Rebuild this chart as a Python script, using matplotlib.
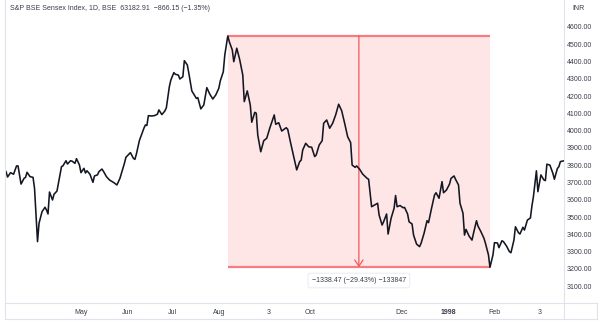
import matplotlib
matplotlib.use("Agg")
import matplotlib.pyplot as plt
from matplotlib.patches import Rectangle
from matplotlib.lines import Line2D
import pandas as pd

# S&P BSE Sensex daily closes, Mar 1997 - Mar 1998
dates = [
    "1997-03-12", "1997-03-13", "1997-03-15", "1997-03-17", "1997-03-19", "1997-03-20",
    "1997-03-22", "1997-03-24", "1997-03-25", "1997-03-26", "1997-03-28", "1997-03-30",
    "1997-03-31", "1997-04-02", "1997-04-03", "1997-04-05", "1997-04-07", "1997-04-08",
    "1997-04-09", "1997-04-10", "1997-04-12", "1997-04-13", "1997-04-15", "1997-04-16",
    "1997-04-18", "1997-04-19", "1997-04-21", "1997-04-22", "1997-04-24", "1997-04-25",
    "1997-04-27", "1997-04-28", "1997-04-30", "1997-05-01", "1997-05-03", "1997-05-04",
    "1997-05-05", "1997-05-07", "1997-05-09", "1997-05-10", "1997-05-12", "1997-05-13",
    "1997-05-15", "1997-05-16", "1997-05-18", "1997-05-20", "1997-05-23", "1997-05-25",
    "1997-05-27", "1997-05-28", "1997-05-30", "1997-05-31", "1997-06-03", "1997-06-05",
    "1997-06-06", "1997-06-07", "1997-06-09", "1997-06-12", "1997-06-13", "1997-06-14",
    "1997-06-15", "1997-06-17", "1997-06-19", "1997-06-21", "1997-06-22", "1997-06-24",
    "1997-06-26", "1997-06-27", "1997-06-29", "1997-06-30", "1997-07-02", "1997-07-03",
    "1997-07-05", "1997-07-06", "1997-07-08", "1997-07-09", "1997-07-11", "1997-07-12",
    "1997-07-14", "1997-07-15", "1997-07-17", "1997-07-18", "1997-07-20", "1997-07-22",
    "1997-07-24", "1997-07-26", "1997-07-28", "1997-07-30", "1997-08-01", "1997-08-02",
    "1997-08-04", "1997-08-05", "1997-08-07", "1997-08-08", "1997-08-10", "1997-08-11",
    "1997-08-13", "1997-08-15", "1997-08-17", "1997-08-18", "1997-08-20", "1997-08-22",
    "1997-08-23", "1997-08-25", "1997-08-26", "1997-08-27", "1997-08-29", "1997-08-31",
    "1997-09-02", "1997-09-04", "1997-09-07", "1997-09-08", "1997-09-10", "1997-09-12",
    "1997-09-15", "1997-09-16", "1997-09-18", "1997-09-20", "1997-09-22", "1997-09-24",
    "1997-09-25", "1997-09-26", "1997-09-28", "1997-09-30", "1997-10-02", "1997-10-04",
    "1997-10-05", "1997-10-07", "1997-10-09", "1997-10-10", "1997-10-12", "1997-10-14",
    "1997-10-16", "1997-10-18", "1997-10-20", "1997-10-22", "1997-10-24", "1997-10-26",
    "1997-10-28", "1997-10-29", "1997-10-31", "1997-11-01", "1997-11-03", "1997-11-05",
    "1997-11-08", "1997-11-09", "1997-11-11", "1997-11-13", "1997-11-15", "1997-11-16",
    "1997-11-18", "1997-11-19", "1997-11-21", "1997-11-22", "1997-11-24", "1997-11-26",
    "1997-11-27", "1997-11-28", "1997-11-30", "1997-12-02", "1997-12-03", "1997-12-05",
    "1997-12-06", "1997-12-08", "1997-12-09", "1997-12-11", "1997-12-13", "1997-12-14",
    "1997-12-16", "1997-12-18", "1997-12-19", "1997-12-21", "1997-12-23", "1997-12-24",
    "1997-12-26", "1997-12-28", "1997-12-29", "1997-12-31", "1998-01-02", "1998-01-03",
    "1998-01-05", "1998-01-06", "1998-01-08", "1998-01-09", "1998-01-11", "1998-01-12",
    "1998-01-13", "1998-01-15", "1998-01-17", "1998-01-18", "1998-01-20", "1998-01-21",
    "1998-01-23", "1998-01-25", "1998-01-26", "1998-01-28", "1998-01-29", "1998-01-31",
    "1998-02-01", "1998-02-03", "1998-02-04", "1998-02-06", "1998-02-07", "1998-02-09",
    "1998-02-11", "1998-02-12", "1998-02-14", "1998-02-15", "1998-02-17", "1998-02-18",
    "1998-02-20", "1998-02-21", "1998-02-23", "1998-02-25", "1998-02-26", "1998-02-27",
    "1998-03-01", "1998-03-02", "1998-03-04", "1998-03-06", "1998-03-07", "1998-03-08",
    "1998-03-10", "1998-03-12", "1998-03-13", "1998-03-15", "1998-03-16", "1998-03-17",
    "1998-03-19",
]
closes = [
    3763, 3732, 3757, 3748, 3796, 3796,
    3691, 3724, 3730, 3759, 3734, 3730,
    3667, 3358, 3464, 3531, 3557, 3541,
    3518, 3645, 3599, 3632, 3651, 3699,
    3792, 3797, 3826, 3807, 3826, 3824,
    3811, 3838, 3801, 3757, 3782, 3755,
    3768, 3748, 3701, 3738, 3744, 3763,
    3778, 3765, 3734, 3715, 3699, 3686,
    3724, 3753, 3811, 3846, 3873, 3840,
    3834, 3865, 3943, 4014, 4033, 4030,
    4087, 4085, 4087, 4095, 4120, 4093,
    4114, 4133, 4255, 4293, 4336, 4326,
    4322, 4299, 4312, 4405, 4380, 4332,
    4230, 4216, 4187, 4191, 4126, 4149,
    4249, 4211, 4183, 4207, 4245, 4288,
    4341, 4438, 4548.00, 4515, 4467, 4399,
    4477, 4409, 4322, 4168, 4230, 4149,
    4049, 4106, 4101, 3975, 3878, 3942,
    3956, 4014, 4091, 4037, 4046, 3998,
    4017, 4008, 3927, 3850, 3773, 3821,
    3830, 3888, 3927, 3907, 3904, 3850,
    3859, 3917, 3942, 4043, 4062, 4014,
    4043, 4091, 4153, 4116, 4043, 3965,
    3931, 3801, 3788, 3796, 3777, 3749,
    3724, 3719, 3560, 3570, 3580, 3512,
    3454, 3473, 3518, 3402, 3493, 3551,
    3625, 3560, 3567, 3554, 3556, 3518,
    3473, 3460, 3396, 3344, 3329, 3348,
    3406, 3479, 3468, 3551, 3628, 3641,
    3609, 3705, 3641, 3657, 3691, 3724,
    3738, 3719, 3686, 3580, 3522, 3396,
    3429, 3391, 3367, 3406, 3479, 3448,
    3415, 3377, 3348, 3281, 3209.53, 3281,
    3352, 3350, 3323, 3363, 3358, 3333,
    3300, 3294, 3367, 3444, 3410, 3402,
    3441, 3425, 3483, 3495, 3564, 3618,
    3768, 3647, 3744, 3715, 3711, 3806,
    3801, 3753, 3719, 3781, 3792, 3821,
    3825,
]

price_ticks = [3100, 3200, 3300, 3400, 3500, 3600, 3700, 3800,
               3900, 4000, 4100, 4200, 4300, 4400, 4500, 4600]
time_ticks = ["1997-05-01", "1997-06-01", "1997-07-01", "1997-08-01", "1997-09-03",
              "1997-10-01", "1997-12-01", "1998-01-01", "1998-02-01", "1998-03-03"]
time_labels = ["May", "Jun", "Jul", "Aug", "3", "Oct", "Dec", "1998", "Feb", "3"]

header = "S&P BSE Sensex Index, 1D, BSE  63182.91  \u2212866.15 (\u22121.35%)"

W, H = 602, 325
FONT = "Liberation Sans"
TXT = "#3a3e4a"
BORDER = "#e0e3eb"
RED_LINE = "#f77c80"
RED_FILL = "#fee6e7"
ARROW = "#f5565b"

df = pd.DataFrame({"date": pd.to_datetime(dates), "close": closes})

fig = plt.figure(figsize=(W / 100, H / 100), dpi=100)
fig.patch.set_facecolor("white")
ax = fig.add_axes([5 / W, (H - 303) / H, (564 - 5) / W, 303 / H])
ax.set_facecolor("white")

# price range measurement: highest close to lowest close after it
i_hi = df["close"].idxmax()
i_lo = df.loc[i_hi:, "close"].idxmin()
d_hi, p_hi = df.loc[i_hi, "date"], df.loc[i_hi, "close"]
d_lo, p_lo = df.loc[i_lo, "date"], df.loc[i_lo, "close"]
d_mid = d_hi + (d_lo - d_hi) / 2
change = p_lo - p_hi
pct = change / p_hi * 100

ax.add_patch(Rectangle((d_hi, p_lo), d_lo - d_hi, p_hi - p_lo,
                       facecolor=RED_FILL, edgecolor="none", zorder=1))
ax.hlines([p_hi, p_lo], d_hi, d_lo, color=RED_LINE, lw=1.6, zorder=2)
ax.annotate("", xy=(d_mid, p_lo), xytext=(d_mid, p_hi),
            arrowprops=dict(arrowstyle="->,head_length=0.45,head_width=0.3",
                            color=ARROW, lw=0.9, shrinkA=0, shrinkB=0),
            zorder=3)

ax.plot(df["date"], df["close"], color="#131722", lw=1.15, zorder=4,
        solid_joinstyle="round")

label = f"\u2212{abs(change):.2f} (\u2212{abs(pct):.2f}%) \u2212{abs(change) * 100:.0f}"
ax.annotate(label, xy=(d_mid, p_lo), xytext=(0, -9.5), textcoords="offset points",
            ha="center", va="center", fontsize=5, family=FONT, color=TXT,
            bbox=dict(boxstyle="round,pad=0.55,rounding_size=0.3", fc="white",
                      ec="#e6e8ee", lw=0.6), zorder=5, annotation_clip=False)

ax.set_xlim(pd.Timestamp("1997-03-11 07:00"), pd.Timestamp("1998-03-19 10:00"))
ax.set_ylim(3003, 4756)

ax.yaxis.tick_right()
ax.set_yticks(price_ticks)
ax.set_yticklabels([f"{v:.2f}" for v in price_ticks])
ax.set_xticks(pd.to_datetime(time_ticks))
ax.set_xticklabels(time_labels)
ax.tick_params(axis="y", length=0, pad=2, labelsize=5, labelcolor=TXT)
ax.tick_params(axis="x", length=0, pad=4.5, labelsize=5, labelcolor=TXT)
for lab in ax.get_xticklabels() + ax.get_yticklabels():
    lab.set_family(FONT)
    if lab.get_text() == "1998":
        lab.set_fontweight("bold")

for s in ax.spines.values():
    s.set_visible(False)

# pane borders
def frame_line(x0, y0, x1, y1):
    fig.add_artist(Line2D([x0 / W, x1 / W], [1 - y0 / H, 1 - y1 / H],
                          transform=fig.transFigure, color=BORDER, lw=0.8))

frame_line(5, 0, 5, 319)
frame_line(564, 0, 564, 319)
frame_line(597, 303, 597, 319)
frame_line(5, 303, 597, 303)
frame_line(5, 319, 597, 319)

fig.text(10 / W, 1 - 8 / H, header, fontsize=5, family=FONT, color=TXT,
         ha="left", va="center")
fig.text(572 / W, 1 - 9 / H, "INR", fontsize=5, family=FONT, color=TXT,
         ha="left", va="center")

fig.savefig("out.png", dpi=100)
